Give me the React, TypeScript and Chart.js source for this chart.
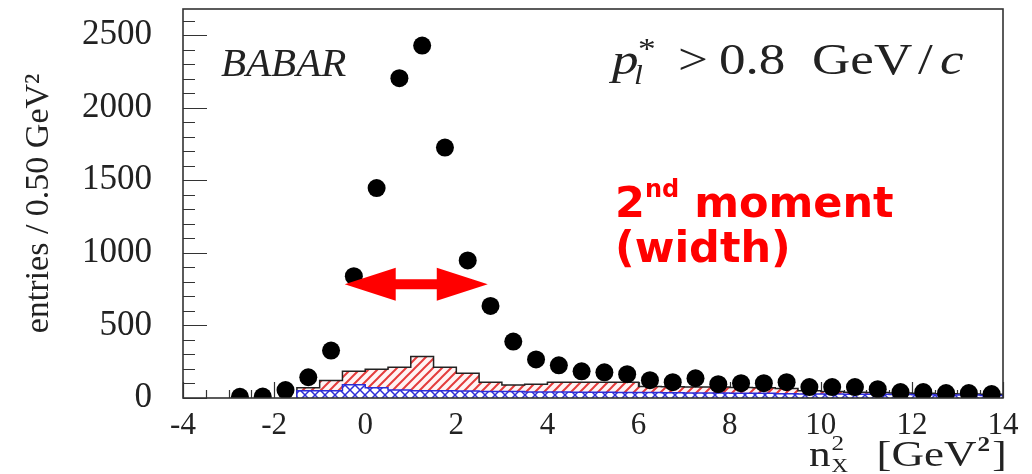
import React, { useEffect, useRef } from 'react';
import { Chart, registerables } from 'chart.js';

Chart.register(...registerables);

// ---- data ----
const BIN_CENTERS = [
  -2.75, -2.25, -1.75, -1.25, -0.75, -0.25, 0.25, 0.75, 1.25, 1.75,
  2.25, 2.75, 3.25, 3.75, 4.25, 4.75, 5.25, 5.75, 6.25, 6.75,
  7.25, 7.75, 8.25, 8.75, 9.25, 9.75, 10.25, 10.75, 11.25, 11.75,
  12.25, 12.75, 13.25, 13.75,
];
const DATA_ENTRIES = [
  8, 10, 55, 143, 327, 839, 1446, 2203, 2428, 1725,
  948, 634, 389, 266, 225, 184, 177, 164, 123, 109,
  136, 95, 102, 102, 109, 75, 75, 75, 61, 41,
  41, 34, 34, 27,
];
const HIST_EDGES = [
  -1.5, -1.0, -0.5, 0.0, 0.5, 1.0, 1.5, 2.0, 2.5, 3.0,
  3.5, 4.0, 4.5, 5.0, 5.5, 6.0, 6.5, 7.0, 7.5, 8.0,
  8.5, 9.0, 9.5, 10.0, 10.5, 11.0, 11.5, 12.0, 12.5, 13.0,
  13.5,
];
const HIST_END = 14;
const BKG_BLUE = [
  50, 50, 92, 70, 55, 50, 50, 48, 45, 45,
  42, 42, 40, 40, 38, 38, 36, 35, 34, 33,
  32, 30, 28, 27, 26, 25, 24, 22, 21, 20,
  18,
];
const BKG_RED = [
  20, 70, 92, 128, 156, 236, 161, 122, 64, 44,
  53, 67, 69, 69, 71, 42, 42, 40, 41, 39,
  38, 35, 22, 18, 14, 13, 11, 10, 9, 8,
  7,
];
const X_TICKS = [-4, -2, 0, 2, 4, 6, 8, 10, 12, 14];
const Y_TICKS = [0, 500, 1000, 1500, 2000, 2500];
const X_RANGE = [-4, 14];
const Y_RANGE = [0, 2680];
const ARROW_X = [-0.45, 2.69];
const ARROW_Y = 784;

const SERIF = '"Liberation Serif", "Times New Roman", serif';
const SANS = '"DejaVu Sans", sans-serif';

function stepPoints(tops: number[]) {
  const pts = [{ x: HIST_EDGES[0], y: 0 }];
  HIST_EDGES.forEach((e, i) => pts.push({ x: e, y: tops[i] }));
  pts.push({ x: HIST_END, y: tops[tops.length - 1] });
  return pts;
}

function makePattern(kind: 'red' | 'blue') {
  const c = document.createElement('canvas');
  const s = kind === 'red' ? 9 : 10;
  c.width = s;
  c.height = s;
  const g = c.getContext('2d')!;
  if (kind === 'red') {
    g.fillStyle = '#fff4f4';
    g.fillRect(0, 0, s, s);
    g.strokeStyle = 'rgb(228,60,60)';
    g.lineWidth = 2;
    g.beginPath();
    g.moveTo(0, s); g.lineTo(s, 0);
    g.moveTo(-2, 2); g.lineTo(2, -2);
    g.moveTo(s - 2, s + 2); g.lineTo(s + 2, s - 2);
    g.stroke();
  } else {
    g.fillStyle = '#ffffff';
    g.fillRect(0, 0, s, s);
    g.strokeStyle = 'rgb(45,45,215)';
    g.lineWidth = 1.5;
    g.beginPath();
    g.moveTo(0, 0); g.lineTo(s, s);
    g.moveTo(0, s); g.lineTo(s, 0);
    g.stroke();
  }
  return g.createPattern(c, 'repeat');
}

function drawText(ctx: CanvasRenderingContext2D, text: string, x: number, y: number, font: string, color: string, hScale = 1) {
  ctx.save();
  ctx.font = font;
  ctx.fillStyle = color;
  ctx.textAlign = 'left';
  ctx.textBaseline = 'alphabetic';
  ctx.translate(x, y);
  ctx.scale(hScale, 1);
  ctx.fillText(text, 0, 0);
  const w = ctx.measureText(text).width * hScale;
  ctx.restore();
  return w;
}

const frameTicks = {
  id: 'frameTicks',
  beforeDatasetsDraw(chart: any) {
    const { ctx, chartArea: a, scales } = chart;
    const x = scales.x, y = scales.y;
    ctx.save();
    ctx.strokeStyle = '#333';
    ctx.lineWidth = 1.2;
    ctx.beginPath();
    for (let v = 0; v <= Y_RANGE[1]; v += 100) {
      const py = Math.round(y.getPixelForValue(v)) + 0.5;
      const len = v % 500 === 0 ? 24 : 12;
      ctx.moveTo(a.left, py);
      ctx.lineTo(a.left + len, py);
    }
    for (let v = X_RANGE[0]; v <= X_RANGE[1]; v += 0.5) {
      const px = Math.round(x.getPixelForValue(v)) + 0.5;
      const len = v % 2 === 0 ? 16 : 8;
      ctx.moveTo(px, a.bottom);
      ctx.lineTo(px, a.bottom - len);
    }
    ctx.stroke();
    ctx.restore();
  },
  afterDatasetsDraw(chart: any) {
    const { ctx, chartArea: a } = chart;
    ctx.save();
    ctx.strokeStyle = '#333';
    ctx.lineWidth = 1.6;
    ctx.strokeRect(a.left, a.top, a.right - a.left, a.bottom - a.top);
    ctx.restore();
  },
};

const annotations = {
  id: 'annotations',
  afterDraw(chart: any) {
    const { ctx, chartArea: a, scales } = chart;
    const x = scales.x, y = scales.y;
    const ink = '#222';
    // BABAR
    drawText(ctx, 'BABAR', a.left + 38, a.top + 67, `italic 41px ${SERIF}`, ink);
    // p_l^* > 0.8 GeV/c
    const base = a.top + 65;
    const hs = 1.18;
    drawText(ctx, 'p', a.left + 429, base, `italic 45px ${SERIF}`, ink, hs);
    drawText(ctx, 'l', a.left + 451, base + 10, `italic 27px ${SERIF}`, ink, hs);
    drawText(ctx, '*', a.left + 455, base - 16, `30px ${SERIF}`, ink, hs);
    drawText(ctx, '>', a.left + 495, base, `45px ${SERIF}`, ink, hs);
    drawText(ctx, '0.8', a.left + 536, base, `45px ${SERIF}`, ink, hs);
    drawText(ctx, 'GeV', a.left + 629, base, `45px ${SERIF}`, ink, hs);
    drawText(ctx, '/', a.left + 735, base, `45px ${SERIF}`, ink, hs);
    drawText(ctx, 'c', a.left + 757, base, `italic 45px ${SERIF}`, ink, hs);

    // x axis title: n^2_X [GeV^2]
    const tb = 466;
    const tx = a.right - 194;
    const wn = drawText(ctx, 'n', tx, tb, `36px ${SERIF}`, ink, 1.2);
    drawText(ctx, '2', tx + wn + 1, tb - 16, `21px ${SERIF}`, ink, 1.2);
    drawText(ctx, 'X', tx + wn + 1, tb + 6, `19px ${SERIF}`, ink, 1.2);
    const bx = tx + wn + 46;
    const wg = drawText(ctx, '[GeV', bx, tb, `36px ${SERIF}`, ink, 1.25);
    const w2 = drawText(ctx, '2', bx + wg + 1, tb - 15, `bold 21px ${SERIF}`, ink, 1.2);
    drawText(ctx, ']', bx + wg + w2 + 3, tb, `36px ${SERIF}`, ink, 1.2);

    // red annotation
    const red = '#ff0000';
    const lx = a.left + 432;
    const w2nd = drawText(ctx, '2', lx, 217, `bold 43px ${SANS}`, red);
    const wnd = drawText(ctx, 'nd', lx + w2nd, 197, `bold 24px ${SANS}`, red);
    drawText(ctx, 'moment', lx + w2nd + wnd + 15, 217, `bold 43px ${SANS}`, red);
    drawText(ctx, '(width)', lx, 262, `bold 43px ${SANS}`, red);

    // double arrow (data coordinates)
    const x1 = x.getPixelForValue(ARROW_X[0]);
    const x2 = x.getPixelForValue(ARROW_X[1]);
    const py = y.getPixelForValue(ARROW_Y);
    const hl = 51, hh = 16.5, sh = 5;
    ctx.save();
    ctx.fillStyle = red;
    ctx.beginPath();
    ctx.moveTo(x1, py);
    ctx.lineTo(x1 + hl, py - hh);
    ctx.lineTo(x1 + hl, py - sh);
    ctx.lineTo(x2 - hl, py - sh);
    ctx.lineTo(x2 - hl, py - hh);
    ctx.lineTo(x2, py);
    ctx.lineTo(x2 - hl, py + hh);
    ctx.lineTo(x2 - hl, py + sh);
    ctx.lineTo(x1 + hl, py + sh);
    ctx.lineTo(x1 + hl, py + hh);
    ctx.closePath();
    ctx.fill();
    ctx.restore();
  },
};

export default function App() {
  const ref = useRef<HTMLCanvasElement | null>(null);

  useEffect(() => {
    if (!ref.current) return;
    const blueTop = BKG_BLUE.slice();
    const redTop = BKG_BLUE.map((b, i) => b + BKG_RED[i]);
    const chart = new Chart(ref.current, {
      type: 'scatter',
      data: {
        datasets: [
          {
            type: 'scatter',
            label: 'data',
            data: BIN_CENTERS.map((c, i) => ({ x: c, y: DATA_ENTRIES[i] })),
            pointRadius: 9,
            pointHoverRadius: 9,
            pointBackgroundColor: '#000',
            pointBorderColor: '#000',
            pointBorderWidth: 0,
          },
          {
            type: 'line',
            label: 'background 1',
            data: stepPoints(blueTop),
            stepped: true,
            borderColor: 'rgb(45,45,215)',
            borderWidth: 1.5,
            backgroundColor: makePattern('blue') as any,
            fill: 'origin',
            pointRadius: 0,
          },
          {
            type: 'line',
            label: 'background 2',
            data: stepPoints(redTop),
            stepped: true,
            borderColor: '#222',
            borderWidth: 1.5,
            backgroundColor: makePattern('red') as any,
            fill: '-1',
            pointRadius: 0,
          },
        ] as any,
      },
      options: {
        animation: false,
        responsive: true,
        maintainAspectRatio: false,
        layout: { padding: { left: 0, top: 5, right: 29, bottom: 0 } },
        plugins: {
          legend: { display: false },
          tooltip: { enabled: false },
        },
        scales: {
          x: {
            type: 'linear',
            min: X_RANGE[0],
            max: X_RANGE[1],
            grid: { display: false },
            border: { display: false },
            afterBuildTicks: (s: any) => {
              s.ticks = X_TICKS.map((v) => ({ value: v }));
            },
            afterFit: (s: any) => {
              s.height = 76;
              s.paddingLeft = 0;
              s.paddingRight = 0;
            },
            ticks: {
              autoSkip: false,
              maxRotation: 0,
              padding: 1,
              color: '#222',
              font: { family: SERIF, size: 31 },
              callback: (v: any) => String(v),
            },
          },
          y: {
            type: 'linear',
            min: Y_RANGE[0],
            max: Y_RANGE[1],
            grid: { display: false },
            border: { display: false },
            afterBuildTicks: (s: any) => {
              s.ticks = Y_TICKS.map((v) => ({ value: v }));
            },
            afterFit: (s: any) => {
              s.width = 183;
              s.paddingTop = 0;
              s.paddingBottom = 0;
            },
            ticks: {
              padding: 23,
              color: '#222',
              font: { family: SERIF, size: 35 },
              callback: (v: any) => String(v),
            },
            title: {
              display: true,
              text: 'entries / 0.50 GeV²',
              color: '#222',
              font: { family: SERIF, size: 34 },
              padding: { top: 19, bottom: 0 },
            },
          },
        },
      } as any,
      plugins: [frameTicks, annotations],
    });
    return () => chart.destroy();
  }, []);

  return (
    <div style={{ position: 'absolute', left: 0, top: 0, width: 1032, height: 474, background: '#fff' }}>
      <canvas ref={ref} style={{ display: 'block' }} />
    </div>
  );
}
